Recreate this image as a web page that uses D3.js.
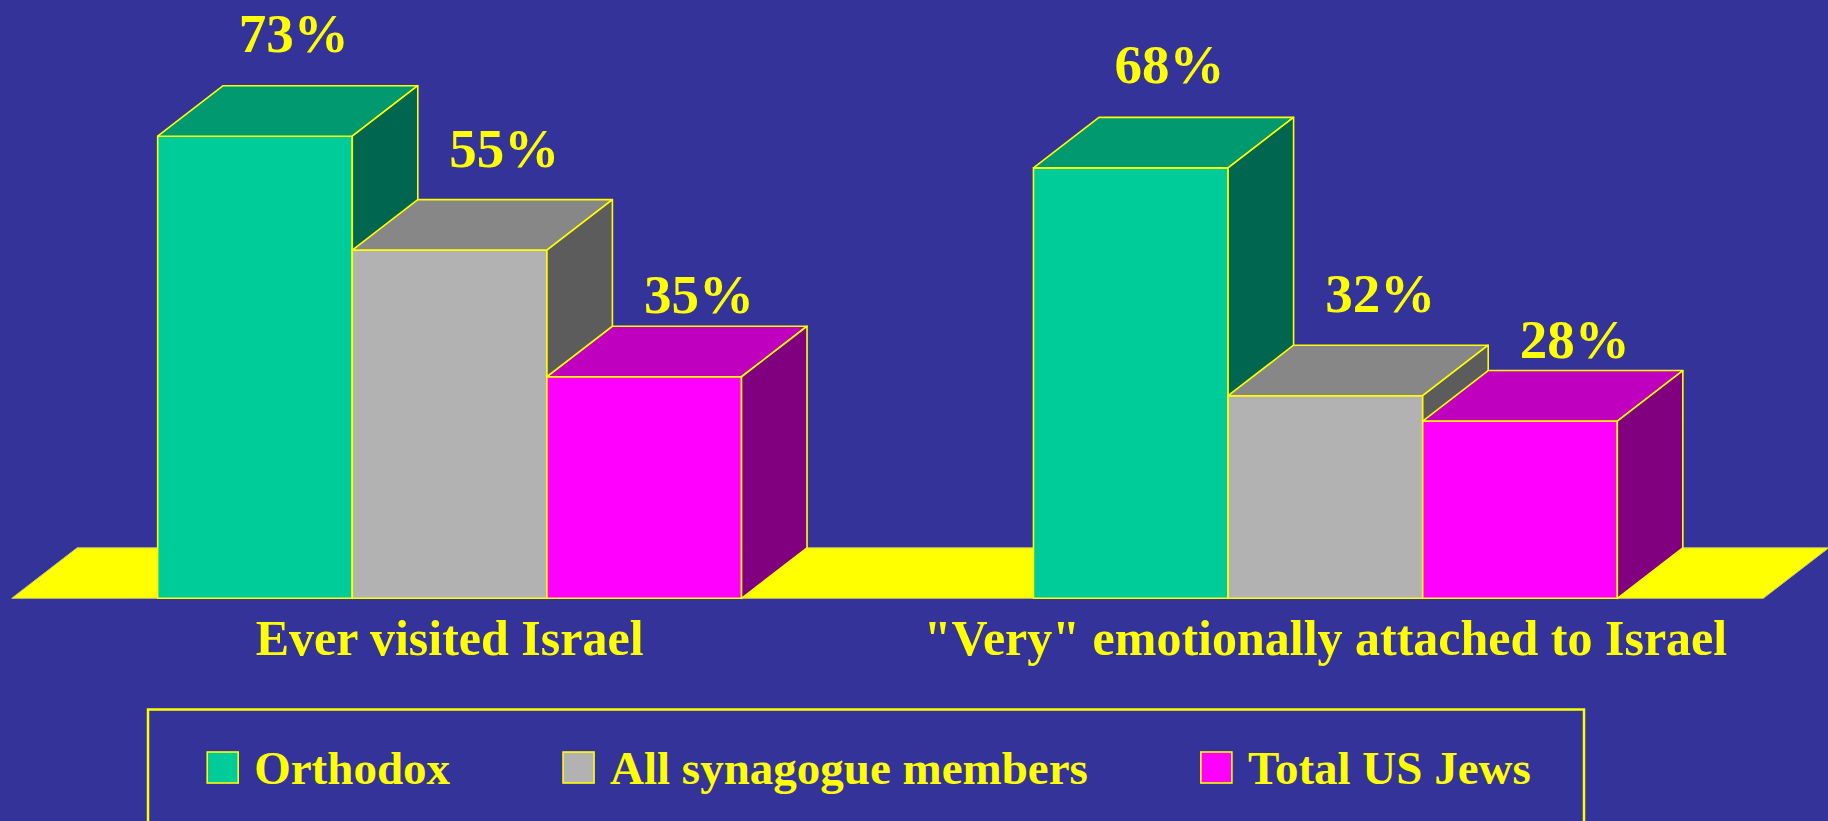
<!DOCTYPE html>
<html>
<head>
<meta charset="utf-8">
<script src="https://cdn.jsdelivr.net/npm/d3@7"></script>
<style>
  body { margin: 0; background: #333399; overflow: hidden; }
  text { font-family: "Liberation Serif", "Times New Roman", serif; font-weight: bold; fill: #ffff00; }
</style>
</head>
<body>
<script>
const width = 1828
const height = 821

// data
const categories = ["Ever visited Israel", "\"Very\" emotionally attached to Israel"]
const series = ["Orthodox", "All synagogue members", "Total US Jews"]
const orthodox = [73, 68]
const synagogue = [55, 32]
const totalUS = [35, 28]
const values = [orthodox, synagogue, totalUS]

// face colours per series: front, top, side
const frontColor = ["#00cc99", "#b2b2b2", "#ff00ff"]
const topColor = ["#009970", "#878787", "#bf00bf"]
const sideColor = ["#006650", "#5c5c5c", "#800080"]

// label nudges per series (the original placed them by hand)
const labelDx = [6, 22, 22]
const labelGap = [34, 33, 13]

const floorY = 598.3
const depth = {x: 65.5, y: 50.5}

const x0 = d3.scaleBand()
    .domain(categories)
    .range([11.7, 1763.3])

const x1 = d3.scaleBand()
    .domain(series)
    .range([0, x0.bandwidth()])
    .paddingOuter(0.75)

const y = d3.scaleLinear()
    .domain([0, 100])
    .range([floorY, floorY - 633])

const svg = d3.select("body").append("svg")
    .attr("width", width)
    .attr("height", height)

svg.append("rect")
    .attr("width", width)
    .attr("height", height)
    .attr("fill", "#333399")

// floor
const [fx0, fx1] = x0.range()
svg.append("polygon")
    .attr("points", [
      [fx0, floorY], [fx1, floorY],
      [fx1 + depth.x, floorY - depth.y], [fx0 + depth.x, floorY - depth.y]
    ].join(" "))
    .attr("fill", "#ffff00")
    .attr("stroke", "#c8c860")
    .attr("stroke-width", 1)

// flatten into one row per bar
const bars = []
categories.forEach((c, ci) => {
  series.forEach((s, si) => {
    bars.push({cat: c, ser: s, si: si, value: values[si][ci]})
  })
})

const barG = svg.append("g")
    .attr("stroke", "#ffff00")
    .attr("stroke-width", 1.6)
    .attr("stroke-linejoin", "round")

bars.forEach(d => {
  const x = x0(d.cat) + x1(d.ser)
  const w = x1.bandwidth()
  const yt = y(d.value)
  const y0 = y(0)
  const g = barG.append("g")
  g.append("rect")
      .attr("x", x)
      .attr("y", yt)
      .attr("width", w)
      .attr("height", y0 - yt)
      .attr("fill", frontColor[d.si])
  g.append("polygon")
      .attr("points", [
        [x, yt], [x + depth.x, yt - depth.y],
        [x + w + depth.x, yt - depth.y], [x + w, yt]
      ].join(" "))
      .attr("fill", topColor[d.si])
  g.append("polygon")
      .attr("points", [
        [x + w, yt], [x + w + depth.x, yt - depth.y],
        [x + w + depth.x, y0 - depth.y], [x + w, y0]
      ].join(" "))
      .attr("fill", sideColor[d.si])
})

// value labels
svg.append("g")
  .selectAll("text")
  .data(bars)
  .join("text")
    .attr("x", d => x0(d.cat) + x1(d.ser) + x1.bandwidth() / 2 + depth.x / 2 + labelDx[d.si])
    .attr("y", d => y(d.value) - depth.y - labelGap[d.si])
    .attr("text-anchor", "middle")
    .attr("font-size", 55)
    .text(d => d.value + "%")

// category labels
svg.append("g")
  .selectAll("text")
  .data(categories)
  .join("text")
    .attr("x", d => x0(d) + x0.bandwidth() / 2)
    .attr("y", 655)
    .attr("text-anchor", "middle")
    .attr("font-size", 50)
    .text(d => d)

// legend
const legendBox = {x: 148, y: 709.5, w: 1436}
svg.append("rect")
    .attr("x", legendBox.x)
    .attr("y", legendBox.y)
    .attr("width", legendBox.w)
    .attr("height", 200)
    .attr("fill", "none")
    .attr("stroke", "#ffff00")
    .attr("stroke-width", 2.5)

const legend = svg.append("g")
const items = legend.selectAll("g")
  .data(series)
  .join("g")

items.append("rect")
    .attr("x", 0)
    .attr("y", 752)
    .attr("width", 31)
    .attr("height", 31)
    .attr("fill", (d, i) => frontColor[i])
    .attr("stroke", "#ffff00")
    .attr("stroke-width", 1.6)

items.append("text")
    .attr("x", 47)
    .attr("y", 784)
    .attr("font-size", 47)
    .text(d => d)

// lay out items one after another, then centre them in the box
let cursor = 0
items.each(function() {
  const w = this.querySelector("text").getComputedTextLength() + 47
  d3.select(this).attr("transform", `translate(${cursor},0)`)
  cursor += w + 113
})
const total = cursor - 113
const start = legendBox.x + (legendBox.w - total) / 2 + 3
legend.attr("transform", `translate(${start},0)`)
</script>
</body>
</html>
